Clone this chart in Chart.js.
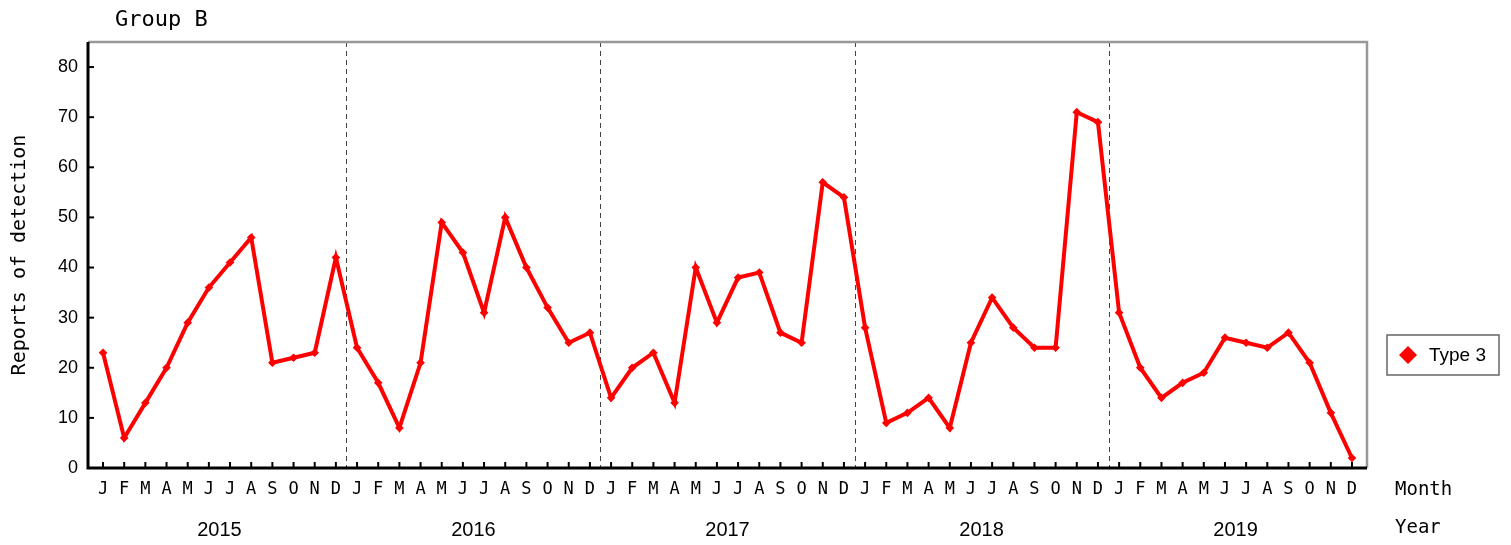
<!DOCTYPE html>
<html>
<head>
<meta charset="utf-8">
<script src="https://cdn.jsdelivr.net/npm/chart.js@4"></script>
<style>
  html,body{margin:0;padding:0;background:#fff}
  #wrap{width:1511px;height:545px;position:relative}
</style>
</head>
<body>
<div id="wrap"><canvas id="chartB"></canvas></div>
<script>
// Group B - monthly reports of detection, 2015-2019
const months = ['J','F','M','A','M','J','J','A','S','O','N','D'];
const years = ['2015','2016','2017','2018','2019'];
const type3 = [
  23, 6, 13, 20, 29, 36, 41, 46, 21, 22, 23, 42,
  24, 17, 8, 21, 49, 43, 31, 50, 40, 32, 25, 27,
  14, 20, 23, 13, 40, 29, 38, 39, 27, 25, 57, 54,
  28, 9, 11, 14, 8, 25, 34, 28, 24, 24, 71, 69,
  31, 20, 14, 17, 19, 26, 25, 24, 27, 21, 11, 2
];
const yTicks = [0, 10, 20, 30, 40, 50, 60, 70, 80];

const monthLabels = years.flatMap(() => months);
const yearCenters = years.map((_, i) => i * 12 + 5.5);
const yearBreaks = years.slice(1).map((_, i) => i * 12 + 11.5);

const MONO = '"DejaVu Sans Mono", monospace';
const SANS = '"Liberation Sans", Arial, sans-serif';

const decor = {
  id: 'decor',
  beforeDatasetsDraw(chart) {
    const {ctx, chartArea: a, scales: {x}} = chart;
    ctx.save();
    ctx.strokeStyle = '#444'; ctx.lineWidth = 1; ctx.setLineDash([5, 4]);
    yearBreaks.forEach(v => {
      const px = Math.round(x.getPixelForValue(v)) + 0.5;
      ctx.beginPath(); ctx.moveTo(px, a.top); ctx.lineTo(px, a.bottom); ctx.stroke();
    });
    ctx.restore();
  },
  afterDatasetsDraw(chart) {
    const {ctx, chartArea: a, scales: {x, y}} = chart;
    ctx.save();
    // top + right frame (grey)
    ctx.strokeStyle = '#999'; ctx.lineWidth = 2.5;
    ctx.beginPath(); ctx.moveTo(a.left, a.top); ctx.lineTo(a.right, a.top); ctx.lineTo(a.right, a.bottom); ctx.stroke();
    // left + bottom axes (black)
    ctx.strokeStyle = '#000'; ctx.lineWidth = 3;
    ctx.beginPath(); ctx.moveTo(a.left, a.top); ctx.lineTo(a.left, a.bottom); ctx.lineTo(a.right, a.bottom); ctx.stroke();
    // inward tick marks
    ctx.lineWidth = 2;
    monthLabels.forEach((_, i) => {
      const px = x.getPixelForValue(i);
      ctx.beginPath(); ctx.moveTo(px, a.bottom); ctx.lineTo(px, a.bottom - 6); ctx.stroke();
    });
    yTicks.forEach(v => {
      const py = y.getPixelForValue(v);
      ctx.beginPath(); ctx.moveTo(a.left, py); ctx.lineTo(a.left + 6, py); ctx.stroke();
    });
    ctx.restore();
  },
  afterDraw(chart) {
    const {ctx, chartArea: a} = chart;
    ctx.save();
    ctx.fillStyle = '#000'; ctx.textBaseline = 'middle'; ctx.textAlign = 'left';
    ctx.font = '22px ' + MONO;
    ctx.fillText('Group B', 115, 20);
    ctx.font = '19px ' + MONO;
    ctx.fillText('Month', a.right + 28, 490);
    ctx.fillText('Year', a.right + 28, 528);
    // legend
    const lx = a.right + 20, ly = 335, lw = 112, lh = 40;
    ctx.strokeStyle = '#666'; ctx.lineWidth = 1.5;
    ctx.strokeRect(lx, ly, lw, lh);
    const cx = lx + 21, cy = ly + lh / 2, r = 9;
    ctx.fillStyle = '#ff0000';
    ctx.beginPath(); ctx.moveTo(cx, cy - r); ctx.lineTo(cx + r, cy); ctx.lineTo(cx, cy + r); ctx.lineTo(cx - r, cy); ctx.closePath(); ctx.fill();
    ctx.fillStyle = '#000'; ctx.font = '19px ' + SANS;
    ctx.fillText(chart.data.datasets[0].label, lx + 42, cy + 1);
    ctx.restore();
  }
};

new Chart(document.getElementById('chartB'), {
  type: 'line',
  data: {
    datasets: [{
      label: 'Type 3',
      data: type3.map((v, i) => ({x: i, y: v})),
      borderColor: '#ff0000',
      backgroundColor: '#ff0000',
      borderWidth: 4,
      pointStyle: 'rectRot',
      pointRadius: 1.5,
      tension: 0
    }]
  },
  options: {
    responsive: true,
    maintainAspectRatio: false,
    animation: false,
    layout: {padding: {left: 0, right: 144, top: 42, bottom: 0}},
    plugins: {legend: {display: false}, tooltip: {enabled: false}},
    scales: {
      x: {
        type: 'linear', position: 'bottom', min: -0.71, max: 59.71,
        afterBuildTicks: s => { s.ticks = monthLabels.map((_, i) => ({value: i})); },
        afterFit: s => { s.height = 45; },
        grid: {display: false, drawTicks: false},
        border: {display: false},
        ticks: {autoSkip: false, maxRotation: 0, padding: 11, color: '#000',
          font: {family: MONO, size: 17}, callback: v => monthLabels[v]}
      },
      x2: {
        type: 'linear', position: 'bottom', min: -0.71, max: 59.71,
        afterBuildTicks: s => { s.ticks = yearCenters.map(v => ({value: v})); },
        afterFit: s => { s.height = 32; },
        grid: {display: false, drawTicks: false},
        border: {display: false},
        ticks: {autoSkip: false, maxRotation: 0, padding: 5, color: '#000',
          font: {family: SANS, size: 20}, callback: v => years[(v - 5.5) / 12]}
      },
      y: {
        min: 0, max: 85,
        afterBuildTicks: s => { s.ticks = yTicks.map(v => ({value: v})); },
        afterFit: s => { s.width = 88; },
        grid: {display: false, drawTicks: false},
        border: {display: false},
        ticks: {padding: 10, color: '#000', font: {family: SANS, size: 18}},
        title: {display: true, text: 'Reports of detection', color: '#000',
          font: {family: MONO, size: 20}, padding: {top: 8, bottom: 4}}
      }
    }
  },
  plugins: [decor]
});
</script>
</body>
</html>
